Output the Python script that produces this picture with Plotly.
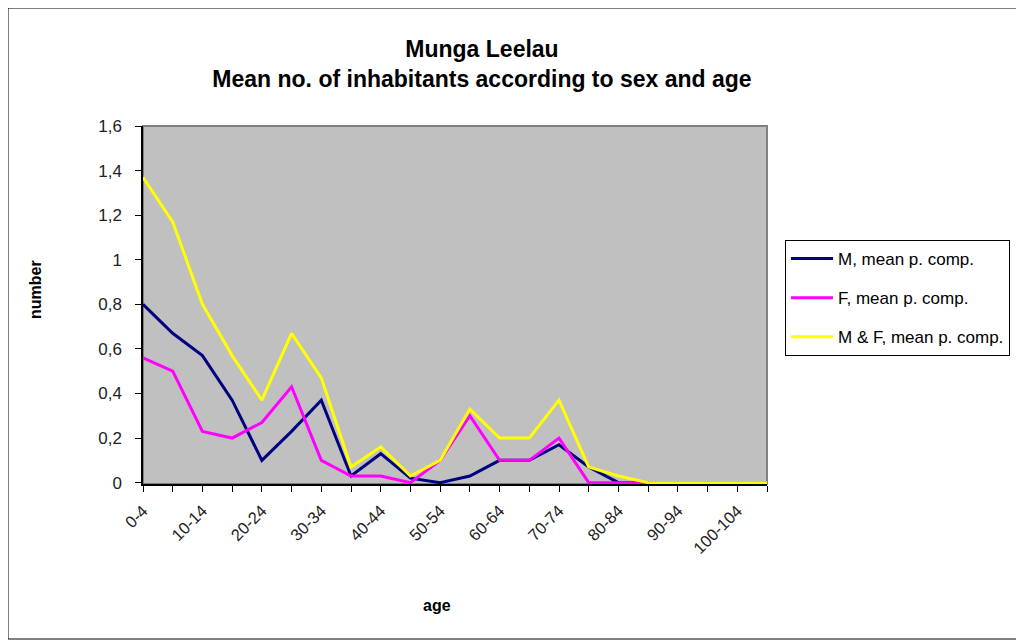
import plotly.graph_objects as go

age_groups = ["0-4", "5-9", "10-14", "15-19", "20-24", "25-29", "30-34", "35-39",
              "40-44", "45-49", "50-54", "55-59", "60-64", "65-69", "70-74", "75-79",
              "80-84", "85-89", "90-94", "95-99", "100-104", "105-109"]

male = [0.80, 0.67, 0.57, 0.37, 0.10, 0.23, 0.37, 0.03, 0.13, 0.02, 0.00, 0.03,
        0.10, 0.10, 0.17, 0.07, 0.00, 0.00, 0.00, 0.00, 0.00, 0.00]
female = [0.56, 0.50, 0.23, 0.20, 0.27, 0.43, 0.10, 0.03, 0.03, 0.00, 0.10, 0.30,
          0.10, 0.10, 0.20, 0.00, 0.00, 0.00, 0.00, 0.00, 0.00, 0.00]
both = [1.37, 1.17, 0.80, 0.57, 0.37, 0.67, 0.47, 0.07, 0.16, 0.03, 0.10, 0.33,
        0.20, 0.20, 0.37, 0.07, 0.03, 0.00, 0.00, 0.00, 0.00, 0.00]

series_names = ["M, mean p. comp.", "F, mean p. comp.", "M & F, mean p. comp."]
series_colors = ["#000080", "#FF00FF", "#FFFF00"]

FONT = "Arial, Liberation Sans, sans-serif"

fig = go.Figure()
for i, (name, vals, col) in enumerate(zip(series_names, [male, female, both], series_colors)):
    fig.add_trace(go.Scatter(
        x=age_groups, y=vals, name=name, mode="lines",
        line=dict(color=col, width=3), legendgroup=f"g{i}",
        cliponaxis=False,
    ))

tick_text = [lab if i % 2 == 0 else "" for i, lab in enumerate(age_groups)]

# page offset (body margin) so screen coordinates can be used below
OFF = 8
W, H = 1024 - OFF, 640 - OFF
L, R, T, B = 143 - OFF, 767 - OFF, 126 - OFF, 484 - OFF
pw, ph = R - L, B - T


def px(x):
    return (x - OFF - L) / pw


def py(y):
    return (B - (y - OFF)) / ph


fig.update_layout(
    width=W, height=H,
    margin=dict(l=L, r=W - R, t=T, b=H - B, autoexpand=False),
    paper_bgcolor="white",
    plot_bgcolor="#C0C0C0",
    separators=",.",
    font=dict(family=FONT, size=15, color="black"),
    title=dict(
        text="<b>Munga Leelau<br>Mean no. of inhabitants according to sex and age</b>",
        x=(482 - OFF) / W, xanchor="center", xref="container",
        y=1 - (57 - OFF) / H, yanchor="middle", yref="container",
        font=dict(family=FONT, size=23, color="black"),
    ),
    xaxis=dict(
        type="category", range=[0, len(age_groups) - 1],
        tickmode="array", tickvals=age_groups, ticktext=tick_text,
        tickangle=-45, ticks="outside", ticklen=6, tickcolor="black",
        ticklabelstandoff=3,
        showline=True, linecolor="black", linewidth=1.5,
        showgrid=False, zeroline=False, layer="below traces",
        tickfont=dict(family=FONT, size=16.5, color="#222"),
    ),
    yaxis=dict(
        range=[-0.006, 1.6], tickmode="array",
        tickvals=[0, 0.2, 0.4, 0.6, 0.8, 1, 1.2, 1.4, 1.6],
        ticks="outside", ticklen=6, tickcolor="black",
        ticklabelstandoff=10,
        showline=True, linecolor="black", linewidth=1.5,
        showgrid=False, zeroline=False, layer="below traces",
        tickfont=dict(family=FONT, size=17, color="#222"),
    ),
    legend=dict(
        x=px(785), y=py(240), xanchor="left", yanchor="top",
        bgcolor="white", bordercolor="black", borderwidth=1,
        font=dict(family=FONT, size=17, color="black"),
        tracegroupgap=14, itemwidth=42,
    ),
    shapes=[
        dict(type="rect", xref="paper", yref="paper", x0=0, x1=1, y0=0, y1=1,
             line=dict(color="#808080", width=2), layer="below"),
        dict(type="rect", xref="paper", yref="paper",
             x0=px(8), x1=px(1023), y0=py(639), y1=py(8),
             line=dict(color="black", width=1), layer="below"),
    ],
    annotations=[
        dict(text="<b>number</b>", x=px(35), y=py(290), xref="paper", yref="paper",
             xanchor="center", yanchor="middle",
             showarrow=False, textangle=-90, font=dict(family=FONT, size=16, color="black")),
        dict(text="<b>age</b>", x=px(437), y=py(605), xref="paper", yref="paper",
             xanchor="center", yanchor="middle",
             showarrow=False, font=dict(family=FONT, size=16, color="black")),
    ],
)

fig.write_html("out.html")
